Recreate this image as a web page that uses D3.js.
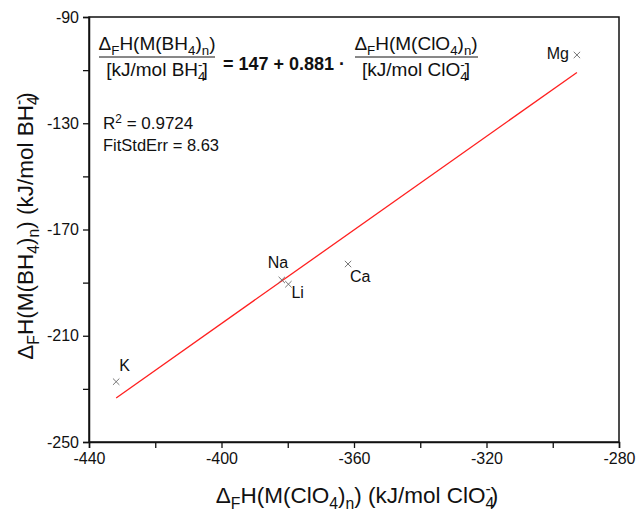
<!DOCTYPE html>
<html>
<head>
<meta charset="utf-8">
<script src="https://cdn.jsdelivr.net/npm/d3@7"></script>
<style>
  html, body { margin: 0; padding: 0; background: #fff; }
  svg { display: block; font-family: "Liberation Sans", Arial, sans-serif; }
</style>
</head>
<body>
<svg id="chart" width="642" height="515"></svg>
<script>
// Formation enthalpies: perchlorates (x) vs borohydrides (y), kJ/mol
const metals = ["Li", "Na", "K", "Mg", "Ca"];
const hPerchlorate = [-379.8, -381.8, -431.8, -292.7, -361.8];
const hBorohydride = [-190.6, -189.0, -227.3, -104.3, -183.0];

// Linear fit reported in the annotation
const fitIntercept = 147;
const fitSlope = 0.881;
const fitR2 = "0.9724";
const fitStdErr = "8.63";

const xTicks = [-440, -420, -400, -380, -360, -340, -320, -300, -280];
const yTicks = [-250, -230, -210, -190, -170, -150, -130, -110, -90];
const xLabeled = [-440, -400, -360, -320, -280];
const yLabeled = [-250, -210, -170, -130, -90];

// Label placement for each point (dx, dy, anchor)
const labelPos = {
  Li: [3, 14, "start"],
  Na: [-14, -12, "start"],
  K: [3, -11, "start"],
  Mg: [-8, 4, "end"],
  Ca: [2, 18, "start"]
};

const svg = d3.select("#chart");
const pLeft = 89, pRight = 619, pTop = 17, pBottom = 442;

const x = d3.scaleLinear().domain([-440, -280]).range([pLeft, pRight]);
const y = d3.scaleLinear().domain([-250, -90]).range([pBottom, pTop]);

const axisColor = "#111";

// Frame
svg.append("rect")
  .attr("x", pLeft).attr("y", pTop)
  .attr("width", pRight - pLeft).attr("height", pBottom - pTop)
  .attr("fill", "none").attr("stroke", axisColor).attr("stroke-width", 1.5);

const xAxis = d3.axisBottom(x).tickValues(xTicks).tickSize(6).tickPadding(5)
  .tickFormat(d => xLabeled.includes(d) ? d : "");
const yAxis = d3.axisLeft(y).tickValues(yTicks).tickSize(6).tickPadding(4)
  .tickFormat(d => yLabeled.includes(d) ? d : "");

function styleAxis(g) {
  g.select(".domain").attr("stroke", axisColor).attr("stroke-width", 1.5);
  g.selectAll(".tick line").attr("stroke", axisColor).attr("stroke-width", 1.3);
  g.selectAll(".tick text").attr("fill", "#111")
    .style("font-size", "16px").style("font-family", "Liberation Sans, Arial, sans-serif");
  g.selectAll(".tick text").filter(function () { return this.textContent === ""; }).remove();
}

svg.append("g").attr("transform", `translate(0,${pBottom})`).call(xAxis).call(styleAxis);
svg.append("g").attr("transform", `translate(${pLeft},0)`).call(yAxis).call(styleAxis);

// Fit line over the data range
const xmin = d3.min(hPerchlorate), xmax = d3.max(hPerchlorate);
svg.append("line")
  .attr("x1", x(xmin)).attr("y1", y(fitIntercept + fitSlope * xmin))
  .attr("x2", x(xmax)).attr("y2", y(fitIntercept + fitSlope * xmax))
  .attr("stroke", "#ff2020").attr("stroke-width", 1.3);

// Point markers (x shape) with element labels
const pts = metals.map((m, i) => ({ m, xv: hPerchlorate[i], yv: hBorohydride[i] }));
const s = 3.2;
const mk = svg.append("g");
pts.forEach(p => {
  const cx = x(p.xv), cy = y(p.yv);
  mk.append("path")
    .attr("d", `M${cx - s},${cy - s}L${cx + s},${cy + s}M${cx - s},${cy + s}L${cx + s},${cy - s}`)
    .attr("stroke", "#666").attr("stroke-width", 0.9).attr("fill", "none");
  const lp = labelPos[p.m];
  svg.append("text")
    .attr("x", cx + lp[0]).attr("y", cy + lp[1])
    .attr("text-anchor", lp[2])
    .style("font-size", "16px").attr("fill", "#111")
    .text(p.m);
});

// Rich text helper: segments [text, kind]; baseline offsets carry to the next segment
function rich(textSel, segs, fs) {
  let pending = 0;
  const small = fs * 0.7;
  segs.forEach(([t, kind]) => {
    if (kind === "sub") {
      textSel.append("tspan").text(t).style("font-size", small + "px")
        .attr("dy", pending + fs * 0.28);
      pending = -fs * 0.28;
    } else if (kind === "sup") {
      textSel.append("tspan").text(t).style("font-size", small + "px")
        .attr("dy", pending - fs * 0.38);
      pending = fs * 0.38;
    } else if (kind === "subsup") {
      // stacked subscript digit under a superscript minus
      textSel.append("tspan").text(t).style("font-size", small + "px")
        .attr("dy", pending + fs * 0.28);
      textSel.append("tspan").text("-").style("font-size", small + "px")
        .attr("dx", -fs * 0.39).attr("dy", -fs * 0.66);
      pending = fs * 0.38;
    } else {
      textSel.append("tspan").text(t).attr("dy", pending);
      pending = 0;
    }
  });
}

// Axis titles
const tfs = 22.5;
const xt = svg.append("text").attr("x", 357).attr("y", 503)
  .attr("text-anchor", "middle").style("font-size", tfs + "px").attr("fill", "#111");
rich(xt, [["\u0394", ""], ["F", "sub"], ["H(M(ClO", ""], ["4", "sub"], [")", ""], ["n", "sub"],
  [") (kJ/mol ClO", ""], ["4", "subsup"], [")", ""]], tfs);

const yt = svg.append("text")
  .attr("transform", `translate(33,226) rotate(-90)`)
  .attr("text-anchor", "middle").style("font-size", tfs + "px").attr("fill", "#111");
rich(yt, [["\u0394", ""], ["F", "sub"], ["H(M(BH", ""], ["4", "sub"], [")", ""], ["n", "sub"],
  [") (kJ/mol BH", ""], ["4", "subsup"], [")", ""]], tfs);

// Fit equation annotation
const efs = 19;
function fraction(cx, numSegs, denSegs, lineX1, lineX2) {
  const n = svg.append("text").attr("x", cx).attr("y", 50).attr("text-anchor", "middle")
    .style("font-size", efs + "px").attr("fill", "#111");
  rich(n, numSegs, efs);
  svg.append("line").attr("x1", lineX1).attr("x2", lineX2).attr("y1", 57).attr("y2", 57)
    .attr("stroke", "#111").attr("stroke-width", 1);
  const d = svg.append("text").attr("x", cx).attr("y", 76).attr("text-anchor", "middle")
    .style("font-size", efs + "px").attr("fill", "#111");
  rich(d, denSegs, efs);
}
fraction(157, [["\u0394", ""], ["F", "sub"], ["H(M(BH", ""], ["4", "sub"], [")", ""], ["n", "sub"], [")", ""]],
  [["[kJ/mol BH", ""], ["4", "subsup"], ["]", ""]], 99, 215);
svg.append("text").attr("x", 223).attr("y", 70)
  .style("font-size", "18px").style("font-weight", "bold").attr("fill", "#111")
  .text(`= ${fitIntercept} + ${fitSlope} \u00b7`);
fraction(416, [["\u0394", ""], ["F", "sub"], ["H(M(ClO", ""], ["4", "sub"], [")", ""], ["n", "sub"], [")", ""]],
  [["[kJ/mol ClO", ""], ["4", "subsup"], ["]", ""]], 355, 478);

const r2 = svg.append("text").attr("x", 103).attr("y", 129)
  .style("font-size", "17px").attr("fill", "#111");
rich(r2, [["R", ""], ["2", "sup"], [" = " + fitR2, ""]], 17);
svg.append("text").attr("x", 103).attr("y", 151)
  .style("font-size", "16.5px").attr("fill", "#111")
  .text("FitStdErr = " + fitStdErr);
</script>
</body>
</html>
